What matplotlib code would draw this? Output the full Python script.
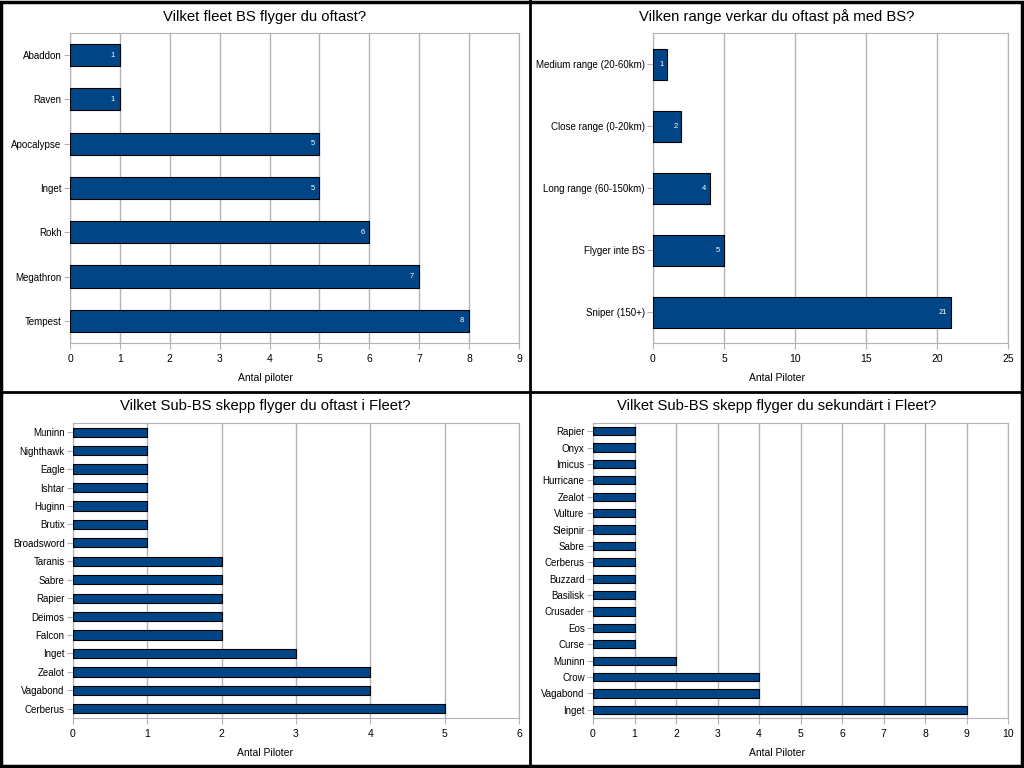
import matplotlib
matplotlib.use('Agg')
from matplotlib import pyplot as plt
from matplotlib.lines import Line2D
from matplotlib.patches import Rectangle

plt.rcParams['font.family'] = ['Liberation Sans', 'DejaVu Sans']

# Panel 1: fleet BS
bs_ships = ['Abaddon', 'Raven', 'Apocalypse', 'Inget', 'Rokh', 'Megathron', 'Tempest']
bs_counts = [1, 1, 5, 5, 6, 7, 8]

# Panel 2: range
ranges = ['Medium range (20-60km)', 'Close range (0-20km)', 'Long range (60-150km)',
          'Flyger inte BS', 'Sniper (150+)']
range_counts = [1, 2, 4, 5, 21]

# Panel 3: sub-BS primary
sub_ships = ['Muninn', 'Nighthawk', 'Eagle', 'Ishtar', 'Huginn', 'Brutix', 'Broadsword',
             'Taranis', 'Sabre', 'Rapier', 'Deimos', 'Falcon', 'Inget', 'Zealot',
             'Vagabond', 'Cerberus']
sub_counts = [1, 1, 1, 1, 1, 1, 1, 2, 2, 2, 2, 2, 3, 4, 4, 5]

# Panel 4: sub-BS secondary
sec_ships = ['Rapier', 'Onyx', 'Imicus', 'Hurricane', 'Zealot', 'Vulture', 'Sleipnir',
             'Sabre', 'Cerberus', 'Buzzard', 'Basilisk', 'Crusader', 'Eos', 'Curse',
             'Muninn', 'Crow', 'Vagabond', 'Inget']
sec_counts = [1, 1, 1, 1, 1, 1, 1, 1, 1, 1, 1, 1, 1, 1, 2, 4, 4, 9]

BAR = '#004586'
GRID = '#b3b3b3'
W, H = 1024.0, 768.0


def px(x0, y0, x1, y1):
    # pixel box -> figure fraction rect
    return [x0 / W, 1 - y1 / H, (x1 - x0) / W, (y1 - y0) / H]


def panel(fig, rect, cats, vals, xmax, xstep, title, xlabel, cx, ty, ly, labels):
    ax = fig.add_axes(rect)
    y = list(range(len(cats)))
    ax.barh(y, vals, height=0.5, color=BAR, edgecolor='black', linewidth=0.8, zorder=3)
    ax.set_yticks(y)
    ax.set_yticklabels(cats, fontsize=7)
    ax.set_ylim(len(cats) - 0.5, -0.5)
    ax.set_xlim(0, xmax)
    ax.set_xticks(range(0, xmax + 1, xstep))
    ax.tick_params(axis='x', labelsize=7.5, length=4, color=GRID, pad=4)
    ax.tick_params(axis='y', length=4, color=GRID, pad=2)
    ax.grid(axis='x', color=GRID, linewidth=1, zorder=0)
    for s in ax.spines.values():
        s.set_color(GRID)
    if labels:
        for yi, v in zip(y, vals):
            ax.text(v - xmax * 0.011, yi, str(v), color='white', fontsize=5.5,
                    ha='right', va='center', zorder=4)
    fig.text(cx / W, 1 - ty / H, title, ha='center', va='center', fontsize=10.7)
    fig.text(cx / W, 1 - ly / H, xlabel, ha='center', va='center', fontsize=7.5)
    return ax


fig = plt.figure(figsize=(10.24, 7.68), dpi=100)

panel(fig, px(70, 33, 519, 343), bs_ships, bs_counts, 9, 1,
      'Vilket fleet BS flyger du oftast?', 'Antal piloter', 265, 17, 378, True)
panel(fig, px(653, 33, 1008, 343), ranges, range_counts, 25, 5,
      'Vilken range verkar du oftast på med BS?', 'Antal Piloter', 777, 17, 378, True)
panel(fig, px(73, 423, 519, 718), sub_ships, sub_counts, 6, 1,
      'Vilket Sub-BS skepp flyger du oftast i Fleet?', 'Antal Piloter', 265, 406, 753, False)
panel(fig, px(593, 423, 1008, 718), sec_ships, sec_counts, 10, 1,
      'Vilket Sub-BS skepp flyger du sekundärt i Fleet?', 'Antal Piloter', 777, 406, 753, False)

# black panel separators and frame
fig.add_artist(Line2D([530 / W, 530 / W], [0, 1], color='black', lw=2))
fig.add_artist(Line2D([0, 1], [1 - 392 / H, 1 - 392 / H], color='black', lw=2))
fig.add_artist(Rectangle((0.001, 0.002), 0.997, 0.996, fill=False, edgecolor='black', lw=2.5,
                         transform=fig.transFigure))

fig.savefig('out.png', dpi=100)
